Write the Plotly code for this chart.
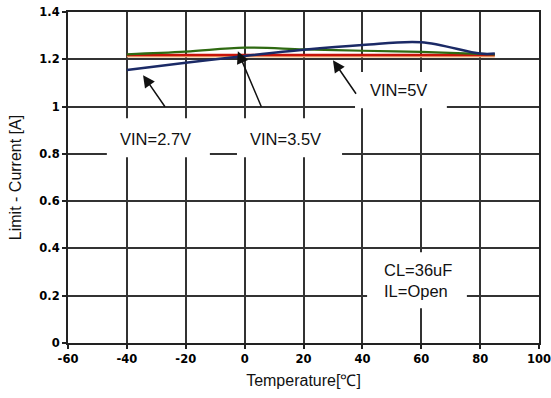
import plotly.graph_objects as go

# ---- data ----
temperature = [-40, -20, 0, 20, 40, 60, 80, 85]
current_vin_2p7 = [1.155, 1.185, 1.214, 1.240, 1.260, 1.272, 1.224, 1.224]   # blue
current_vin_3p5 = [1.221, 1.232, 1.249, 1.242, 1.236, 1.231, 1.223, 1.221]   # green
current_vin_5 = [1.218, 1.218, 1.218, 1.218, 1.218, 1.218, 1.218, 1.218]     # red
current_orange = [1.212, 1.212, 1.212, 1.212, 1.212, 1.212, 1.212, 1.212]    # orange

x_ticks = [-60, -40, -20, 0, 20, 40, 60, 80, 100]
x_tick_text = ["-60", "-40", "-20", "0", "20", "40", "60", "80", "100"]
y_ticks = [0, 0.2, 0.4, 0.6, 0.8, 1.0, 1.2, 1.4]
y_tick_text = ["0", "0.2", "0.4", "0.6", "0.8", "1", "1.2", "1.4"]

fig = go.Figure()
fig.add_trace(go.Scatter(x=temperature, y=current_orange, mode="lines",
                         line=dict(color="#f2b27a", width=2, shape="spline"), name="orange"))
fig.add_trace(go.Scatter(x=temperature, y=current_vin_5, mode="lines",
                         line=dict(color="#c8140a", width=2.5, shape="spline"), name="VIN=5V"))
fig.add_trace(go.Scatter(x=temperature, y=current_vin_3p5, mode="lines",
                         line=dict(color="#2f6a12", width=2.2, shape="spline"), name="VIN=3.5V"))
fig.add_trace(go.Scatter(x=temperature, y=current_vin_2p7, mode="lines",
                         line=dict(color="#1b2a66", width=2.5, shape="spline"), name="VIN=2.7V"))

# white label boxes hiding the grid
boxes = [(-46.8, -11.8, 0.786, 0.951), (-2.6, 33.1, 0.786, 0.951),
         (37.5, 68.7, 0.993, 1.146), (41.6, 75.5, 0.147, 0.384)]
for x0, x1, y0, y1 in boxes:
    fig.add_shape(type="rect", x0=x0, x1=x1, y0=y0, y1=y1, xref="x", yref="y",
                  fillcolor="white", line=dict(width=0), layer="above")

txt_font = dict(family="Liberation Sans, Arial", size=16.5, color="#111")
fig.add_annotation(x=-30.4, y=0.862, text="VIN=2.7V", showarrow=False, font=txt_font)
fig.add_annotation(x=14.0, y=0.862, text="VIN=3.5V", showarrow=False, font=txt_font)
fig.add_annotation(x=52.4, y=1.069, text="VIN=5V", showarrow=False, font=txt_font)
fig.add_annotation(x=46.7, y=0.265, text="CL=36uF<br>IL=Open", showarrow=False,
                   xanchor="left", align="left", font=txt_font)

arrows = [((-34.5, 1.133), (-26.7, 0.993)),
          ((-2.3, 1.234), (5.9, 0.993)),
          ((30.0, 1.196), (38.2, 1.048))]
for (hx, hy), (tx, ty) in arrows:
    fig.add_annotation(x=hx, y=hy, ax=tx, ay=ty, xref="x", yref="y", axref="x", ayref="y",
                       text="", showarrow=True, arrowhead=2, arrowsize=1.6, arrowwidth=1.5,
                       arrowcolor="#111")

axis_common = dict(showgrid=True, gridcolor="#333", gridwidth=1.5, showline=True,
                   linecolor="#222", linewidth=2, mirror=True, ticks="outside",
                   ticklen=4, tickcolor="#222", tickwidth=1.5, zeroline=False,
                   automargin=False, ticklabeloverflow="allow",
                   tickfont=dict(family="DejaVu Sans", size=11.5, color="#000", weight="bold"))

fig.update_xaxes(range=[-60, 100], tickvals=x_ticks, ticktext=x_tick_text, **axis_common,
                 title=dict(text="Temperature[℃]", standoff=10,
                            font=dict(family="Liberation Sans, Arial", size=16, color="#111")))
fig.update_yaxes(range=[0, 1.4], tickvals=y_ticks, ticktext=y_tick_text, **axis_common,
                 title=dict(text="Limit - Current [A]", standoff=14,
                            font=dict(family="Liberation Sans, Arial", size=16, color="#111")))

fig.update_layout(width=551, height=398, margin=dict(l=68, r=12, t=12, b=55),
                  paper_bgcolor="white", plot_bgcolor="white", showlegend=False)

fig.write_html("out.html")
